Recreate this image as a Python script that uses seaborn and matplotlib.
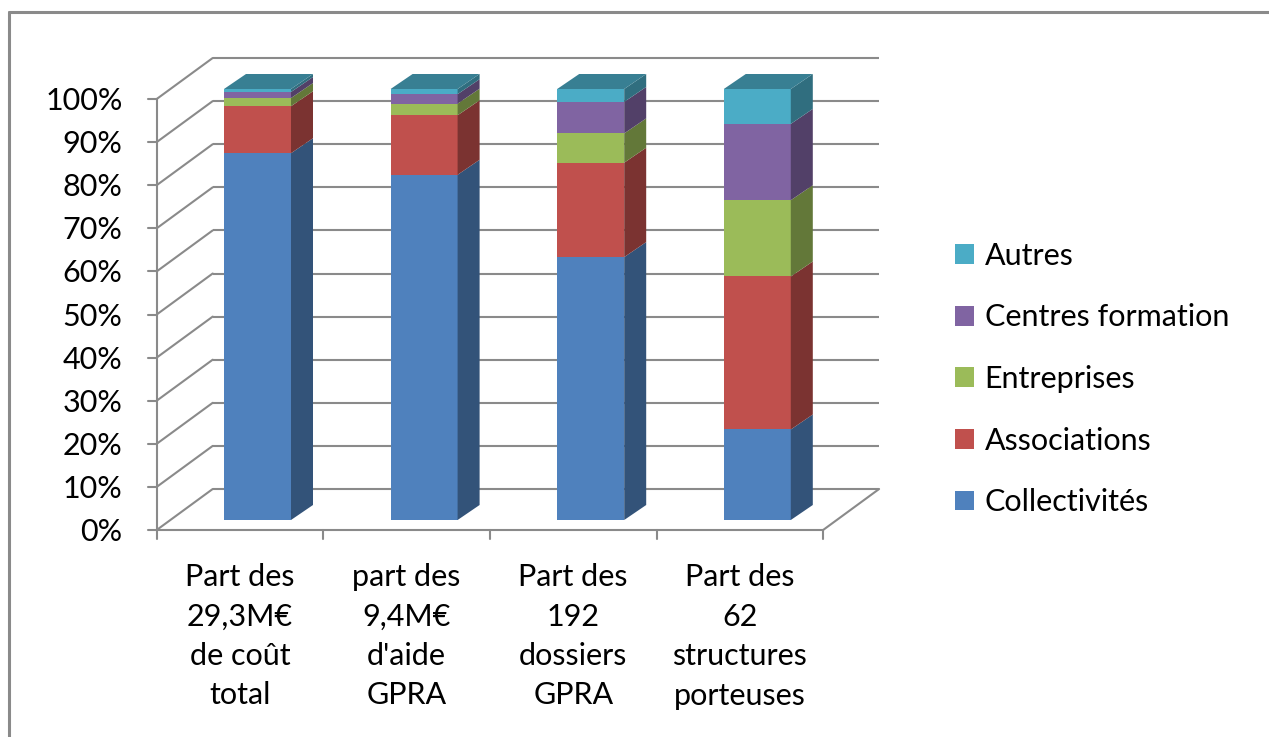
import numpy as np
import pandas as pd
import matplotlib
matplotlib.use("Agg")
import matplotlib.pyplot as plt
import seaborn as sns
from matplotlib.patches import Polygon, Patch
from matplotlib.lines import Line2D
from matplotlib.transforms import ScaledTranslation

# ---------------- data ----------------
categories = ["Part des\n29,3M€\nde coût\ntotal",
              "part des\n9,4M€\nd'aide\nGPRA",
              "Part des\n192\ndossiers\nGPRA",
              "Part des\n62\nstructures\nporteuses"]
collectivites = [85.1, 80.1, 61.0, 21.0]
associations = [10.9, 13.8, 21.9, 35.5]
entreprises = [1.9, 2.7, 6.8, 17.7]
centres_formation = [1.4, 2.2, 7.3, 17.7]
autres = [0.7, 1.2, 3.0, 8.1]
series_names = ["Collectivités", "Associations", "Entreprises",
                "Centres formation", "Autres"]
series_values = [collectivites, associations, entreprises,
                 centres_formation, autres]
colors = ["#4F81BD", "#C0504D", "#9BBB59", "#8064A2", "#4BACC6"]
yticks = list(range(0, 101, 10))
ytick_labels = [f"{v}%" for v in yticks]

# ---------------- style ----------------
sns.set_theme(style="white")
plt.rcParams["font.family"] = ["Lato", "DejaVu Sans"]
plt.rcParams["text.color"] = "#000000"

W, H, DPI = 1269, 737, 100
fig = plt.figure(figsize=(W / DPI, H / DPI), dpi=DPI)
fig.patch.set_facecolor("white")

# axes = plane of the bars' front faces
L, R, T, B = 174.2, 840.6, 89.0, 520.0
ax = fig.add_axes([L / W, (H - B) / H, (R - L) / W, (B - T) / H])
ax.set_facecolor("none")

n = len(categories)
px_x = (R - L) / n          # pixels per category unit
px_y = (B - T) / 100.0      # pixels per percent

# 3D offsets (in data units)
fx, fy = -17.5 / px_x, -10.0 / px_y     # front (axis) plane
bx, by = 38.5 / px_x, 31.0 / px_y       # back wall plane
dx, dy = 22.0 / px_x, 15.0 / px_y       # bar depth
bar_w = 67.0 / px_x

def darker(c, f):
    r, g, b = matplotlib.colors.to_rgb(c)
    return (r * f, g * f, b * f)

grid_c = "#8a8a8a"
glw = 1.5

# back wall grid lines and side wall diagonals
for v in yticks:
    ax.plot([-0.5 + bx, n - 0.5 + bx], [v + by, v + by], color=grid_c,
            lw=glw, zorder=0.5, clip_on=False, solid_capstyle="butt")
    ax.plot([-0.5 + fx, -0.5 + bx], [v + fy, v + by], color=grid_c,
            lw=glw, zorder=0.5, clip_on=False)
# floor: front edge and right edge
ax.plot([-0.5 + fx, n - 0.5 + fx], [fy, fy], color=grid_c, lw=glw,
        zorder=0.6, clip_on=False)
ax.plot([n - 0.5 + fx, n - 0.5 + bx], [fy, by], color=grid_c, lw=glw,
        zorder=0.5, clip_on=False)
# front vertical axis + ticks
ax.plot([-0.5 + fx, -0.5 + fx], [fy, 100 + fy], color=grid_c, lw=glw,
        zorder=5, clip_on=False)
tick_len_x = 9.0 / px_x
tick_len_y = 9.0 / px_y
for v in yticks:
    ax.plot([-0.5 + fx - tick_len_x, -0.5 + fx], [v + fy, v + fy],
            color=grid_c, lw=glw, zorder=5, clip_on=False)
for k in range(n + 1):
    ax.plot([k - 0.5 + fx, k - 0.5 + fx], [fy, fy - tick_len_y],
            color=grid_c, lw=glw, zorder=5, clip_on=False)

# ---------------- bars ----------------
bottom = np.zeros(n)
for name, vals, col in zip(series_names, series_values, colors):
    vals = np.asarray(vals, dtype=float)
    sns.barplot(x=list(range(n)), y=vals, bottom=bottom.copy(), color=col,
                saturation=1, width=bar_w, ax=ax, native_scale=True,
                linewidth=0, zorder=2)
    side = darker(col, 0.64)
    for k in range(n):
        xr = k + bar_w / 2
        y0, y1 = bottom[k], bottom[k] + vals[k]
        ax.add_patch(Polygon([(xr, y0), (xr + dx, y0 + dy),
                              (xr + dx, y1 + dy), (xr, y1)],
                             closed=True, facecolor=side, edgecolor="none",
                             zorder=2, clip_on=False))
    bottom = bottom + vals

top_col = darker(colors[-1], 0.74)
for k in range(n):
    xl, xr = k - bar_w / 2, k + bar_w / 2
    t = bottom[k]
    ax.add_patch(Polygon([(xl, t), (xr, t), (xr + dx, t + dy), (xl + dx, t + dy)],
                         closed=True, facecolor=top_col, edgecolor="none",
                         zorder=2, clip_on=False))

ax.set_xlim(-0.5, n - 0.5)
ax.set_ylim(0, 100)
for s in ax.spines.values():
    s.set_visible(False)
ax.set_xticks([])
ax.set_yticks([])
ax.set_xlabel("")
ax.set_ylabel("")
if ax.get_legend():
    ax.get_legend().remove()

# ---------------- tick labels ----------------
lab_fs = 22
for v, lab in zip(yticks, ytick_labels):
    ax.text(-0.5 + fx, v + fy, lab, ha="right", va="center", fontsize=lab_fs,
            transform=ax.transData + ScaledTranslation(-34 / DPI, -2 / DPI,
                                                       fig.dpi_scale_trans),
            clip_on=False)
for k, lab in enumerate(categories):
    ax.text(k + fx, fy, lab, ha="center", va="top", fontsize=lab_fs,
            linespacing=1.5,
            transform=ax.transData + ScaledTranslation(0, -33 / DPI,
                                                       fig.dpi_scale_trans),
            clip_on=False)

# ---------------- legend ----------------
handles = [Patch(facecolor=c, edgecolor="none") for c in colors][::-1]
labels = series_names[::-1]
fig.legend(handles, labels, loc="center left",
           bbox_to_anchor=(955 / W, 1 - 379 / H), frameon=False,
           fontsize=lab_fs, handlelength=0.62, handleheight=0.62,
           handletextpad=0.35, labelspacing=1.1, borderpad=0, borderaxespad=0)

# ---------------- chart frame ----------------
fig.add_artist(Line2D([9 / W, 1], [1 - 12 / H, 1 - 12 / H], color="#8a8a8a",
                      lw=2.2, transform=fig.transFigure))
fig.add_artist(Line2D([9 / W, 9 / W], [1 - 12 / H, 0], color="#8a8a8a",
                      lw=2.2, transform=fig.transFigure))

fig.savefig("out.png", dpi=DPI, facecolor="white")
